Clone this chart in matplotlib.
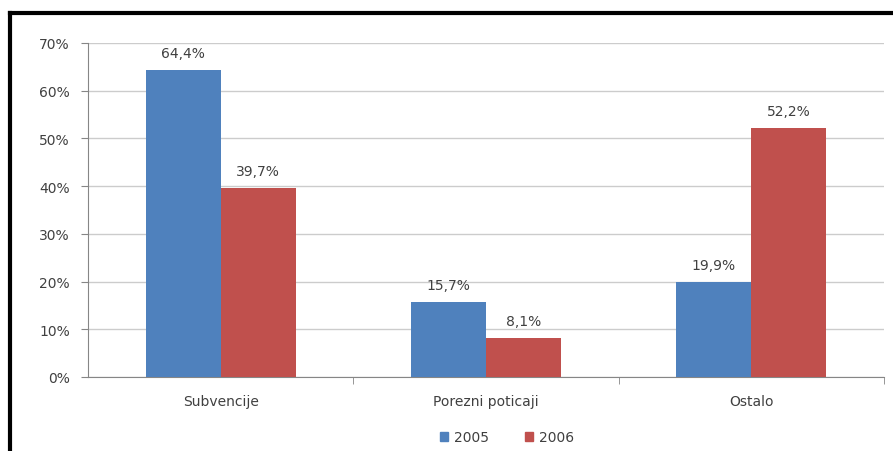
import numpy as np
import matplotlib.pyplot as plt
from matplotlib.lines import Line2D

categories = ["Subvencije", "Porezni poticaji", "Ostalo"]
years = ["2005", "2006"]
vals_2005 = [64.4, 15.7, 19.9]
vals_2006 = [39.7, 8.1, 52.2]
colors = ["#4F81BD", "#C0504D"]

fig = plt.figure(figsize=(8.93, 4.52), dpi=100)
ax = fig.add_axes([88/893, 1-378/452, (884-88)/893, (378-44)/452])

x = np.arange(len(categories))
w = 0.283
b1 = ax.bar(x - w/2, vals_2005, w, color=colors[0], label=years[0], zorder=3)
b2 = ax.bar(x + w/2, vals_2006, w, color=colors[1], label=years[1], zorder=3)

for bars, vals in ((b1, vals_2005), (b2, vals_2006)):
    for r, v in zip(bars, vals):
        ax.text(r.get_x() + r.get_width()/2, v + 2.1, ("%.1f%%" % v).replace(".", ","),
                ha="center", va="bottom", fontsize=10, color="#404040")

ax.set_xlim(-0.5, 2.5)
ax.set_ylim(0, 70)
ax.set_yticks(np.arange(0, 71, 10))
ax.set_yticklabels(["%d%%" % t for t in range(0, 71, 10)], fontsize=10, color="#404040")
ax.yaxis.grid(True, color="#cccccc", linewidth=1, zorder=0)
ax.set_xticks(x)
ax.set_xticklabels(categories, fontsize=10, color="#404040")
ax.tick_params(axis="x", length=0, pad=12)
ax.tick_params(axis="y", length=5, color="#868686", pad=8)
ax.set_xticks([0.5, 1.5, 2.5], minor=True)
ax.tick_params(axis="x", which="minor", length=5, color="#868686")
for s in ["top", "right"]:
    ax.spines[s].set_visible(False)
for s in ["left", "bottom"]:
    ax.spines[s].set_color("#868686")

handles = [plt.Rectangle((0, 0), 1, 1, color=c) for c in colors]
fig.legend(handles, years, loc="center", bbox_to_anchor=(507/893, 1-438/452), ncol=2,
           frameon=False, fontsize=10, handlelength=0.6, handleheight=0.6,
           columnspacing=2.6, handletextpad=0.4, labelcolor="#404040")

# black frame on top and left
fig.add_artist(Line2D([10/893, 10/893], [0, 1-14/452], transform=fig.transFigure, color="black", linewidth=3))
fig.add_artist(Line2D([10/893, 1], [1-14/452, 1-14/452], transform=fig.transFigure, color="black", linewidth=3))

fig.savefig("out.png", dpi=100)
